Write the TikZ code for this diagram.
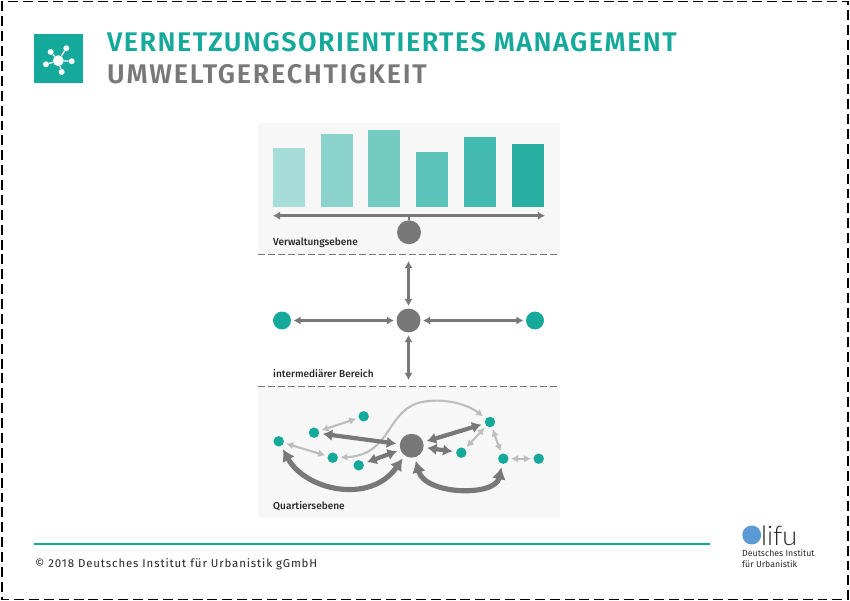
\documentclass[tikz,border=0pt]{standalone}
\usepackage{fontspec}
\setmainfont{Fira Sans}
\newfontfamily\logofont{Lato Light}
\newfontfamily\headfont{Fira Sans SemiBold}
\newfontfamily\labelfont{Fira Sans Medium}
\usetikzlibrary{arrows.meta}
\definecolor{difuteal}{HTML}{14A99B}
\definecolor{difugray}{HTML}{787878}
\definecolor{lightgray}{HTML}{BDBDBD}
\definecolor{panelgray}{HTML}{F7F7F7}
\definecolor{difublue}{HTML}{5A9BD5}
\tikzset{
  bigdot/.style={circle,fill=difugray,inner sep=0pt,minimum size=24*0.85pt},
  middot/.style={circle,fill=difuteal,inner sep=0pt,minimum size=18*0.85pt},
  smalldot/.style={circle,fill=difuteal,inner sep=0pt,minimum size=10.5*0.85pt},
  icondot/.style={circle,fill=white,inner sep=0pt,minimum size=6*0.85pt},
  thinarrow/.style={{Latex[length=6pt,width=7pt]}-{Latex[length=6pt,width=7pt]},draw=difugray,line width=2.2pt,shorten <=2pt,shorten >=2pt},
  palearrow/.style={{Latex[length=6pt,width=6.5pt]}-{Latex[length=6pt,width=6.5pt]},draw=lightgray,line width=1.8pt,shorten <=2pt,shorten >=2pt},
  heavyarrow/.style={{Latex[length=8pt,width=10pt]}-{Latex[length=8pt,width=10pt]},draw=difugray,line width=3.6pt,shorten <=3pt,shorten >=3pt},
  arcarrow/.style={{Latex[length=10pt,width=12pt]}-{Latex[length=10pt,width=12pt]},draw=difugray,line width=4.4pt},
  levellabel/.style={anchor=west,inner sep=0pt,font=\fontsize{8.6pt}{10pt}\labelfont,text=black!85},
  levelline/.style={draw=difugray,line width=0.7pt,dash pattern=on 6pt off 2.6pt},
  headtext/.style={anchor=base west,inner sep=0pt,font=\fontsize{23pt}{26pt}\headfont\addfontfeature{LetterSpace=#1}}
}
\begin{document}
\begin{tikzpicture}[x=0.03cm,y=-0.03cm]
\useasboundingbox (0,0) rectangle (850,601);
\draw[line width=1.4pt,dash pattern=on 8.5pt off 4.2pt] (2,1.5) rectangle (848,599.5);

% header
\fill[difuteal] (34,34) rectangle (83,83);
\node[circle,fill=white,inner sep=0pt,minimum size=11*0.85pt] (hub) at (58.3,60.7) {};
\node[icondot] (i1) at (50.7,52) {};
\node[icondot] (i2) at (66.3,48.3) {};
\node[icondot] (i3) at (71.7,61.3) {};
\node[icondot] (i4) at (61.7,72) {};
\node[icondot] (i5) at (46,64.3) {};
\foreach \i in {i1,i2,i3,i4,i5} \draw[white,line width=1.1pt] (hub) -- (\i);
\node[headtext=5.5,text=difuteal] (title) at (107,52) {VERNETZUNGSORIENTIERTES MANAGEMENT};
\node[headtext=6.4,text=difugray] (subtitle) at (107,84) {UMWELTGERECHTIGKEIT};

% panels
\fill[panelgray] (258,123) rectangle (560,254);
\fill[panelgray] (258,387) rectangle (560,518);
\foreach \xa/\ya/\col in {273.3/147.7/A6DDD8,321/134/8AD2CB,368.3/130/73CBC2,416.3/151.7/5CC3BA,464/137/43BAAF,512.3/144/2AAFA3}{
  \definecolor{barcol}{HTML}{\col}
  \fill[barcol] (\xa,\ya) rectangle (\xa+31.7,207);
}
\draw[levelline] (258,254.5) -- (560,254.5);
\draw[levelline] (258,386) -- (560,386);

% upper level
\node[bigdot] (admin) at (409,232.3) {};
\coordinate (adminL) at (273,215.7);
\coordinate (adminR) at (545,215.7);
\coordinate (adminM) at (409,215.7);
\draw[thinarrow,shorten <=0pt,shorten >=0pt] (adminL) -- (adminR);
\draw[difugray,line width=1.5pt] (admin) -- (adminM);
\node[levellabel] (lab1) at (273,243) {Verwaltungsebene};

% middle level
\node[bigdot] (mid) at (408.5,320.5) {};
\node[middot] (midL) at (282,320.5) {};
\node[middot] (midR) at (535,320.5) {};
\coordinate (midT) at (408.5,261);
\coordinate (midB) at (408.5,380);
\draw[thinarrow] (midL) -- (mid);
\draw[thinarrow] (mid) -- (midR);
\draw[thinarrow,shorten >=0pt] (mid) -- (midT);
\draw[thinarrow,shorten >=0pt] (mid) -- (midB);
\node[levellabel] (lab2) at (273,374) {intermediärer Bereich};

% lower level
\node[bigdot] (q) at (411.7,445.7) {};
\node[smalldot] (a1) at (363.7,416.3) {};
\node[smalldot] (a2) at (314,432.7) {};
\node[smalldot] (a3) at (278.7,441.3) {};
\node[smalldot] (a4) at (332.7,457.7) {};
\node[smalldot] (a5) at (358.7,465.3) {};
\node[smalldot] (a6) at (461.3,452.7) {};
\node[smalldot] (a7) at (490,422) {};
\node[smalldot] (a8) at (503.3,458.7) {};
\node[smalldot] (a9) at (538.7,458.7) {};
\draw[palearrow] (a2) -- (a1);
\draw[palearrow] (a3) -- (a4);
\draw[palearrow] (a6) -- (a7);
\draw[palearrow] (a7) -- (a8);
\draw[palearrow] (a8) -- (a9);
\draw[palearrow,shorten <=2pt,shorten >=3pt] (a4) .. controls (395,455) and (385,403) .. (430,401) .. controls (450,399) and (470,406) .. (a7);
\draw[heavyarrow] (a2) -- (q);
\draw[heavyarrow] (a5) -- (q);
\draw[heavyarrow] (a6) -- (q);
\draw[heavyarrow] (a7) -- (q);
\draw[arcarrow,shorten <=3pt,shorten >=3pt] (a3) .. controls (305,490) and (370,505) .. (q);
\draw[arcarrow,shorten <=3pt,shorten >=3pt] (q) .. controls (425,495) and (495,497) .. (a8);
\node[levellabel] (lab3) at (273,506.5) {Quartiersebene};

% footer
\draw[difuteal,line width=1.4pt] (34,544) -- (710,544);
\node[anchor=base west,inner sep=0pt,font=\fontsize{9.8pt}{11pt}\selectfont\addfontfeature{LetterSpace=7.5},text=black!85] (copy) at (35,567) {© 2018 Deutsches Institut für Urbanistik gGmbH};
\node[circle,fill=difublue,inner sep=0pt,minimum size=19*0.85pt] (logodot) at (751.7,535) {};
\node[anchor=base west,inner sep=0pt,font=\fontsize{23pt}{26pt}\logofont,text=black!85] (logo) at (761,545) {lifu};
\node[anchor=base west,inner sep=0pt,font=\fontsize{7.5pt}{9pt}\selectfont,text=black!85] (logotext) at (742,556.5) {Deutsches Institut};
\node[anchor=base west,inner sep=0pt,font=\fontsize{7.5pt}{9pt}\selectfont,text=black!85] (logotext2) at (742,567.5) {für Urbanistik};
\end{tikzpicture}
\end{document}
